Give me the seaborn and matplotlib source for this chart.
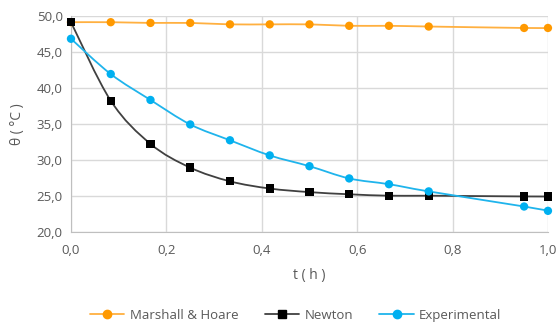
import numpy as np
import pandas as pd
import seaborn as sns
import matplotlib.pyplot as plt
from matplotlib.path import Path
from matplotlib.patches import PathPatch
from matplotlib.lines import Line2D
from matplotlib.ticker import FuncFormatter

# data
t = [0, 1/12, 2/12, 3/12, 4/12, 5/12, 6/12, 7/12, 8/12, 9/12, 0.95, 1.0]
marshall = [49.1, 49.1, 49.0, 49.0, 48.8, 48.8, 48.8, 48.6, 48.6, 48.5, 48.3, 48.3]
newton = [49.1, 38.2, 32.2, 28.9, 27.0, 26.0, 25.5, 25.2, 25.0, 25.0, 24.9, 24.9]
experimental = [46.8, 41.9, 38.3, 34.9, 32.7, 30.6, 29.1, 27.4, 26.6, 25.6, 23.5, 22.9]

series = ['Marshall & Hoare', 'Newton', 'Experimental']
line_colors = ['#FFB040', '#404040', '#1FB4EC']
marker_colors = ['#FF9900', '#000000', '#00B0F0']
markers = ['o', 's', 'o']

df = pd.DataFrame({'t': t * 3,
                   'theta': marshall + newton + experimental,
                   'serie': [s for s in series for _ in t]})

sns.set_style('white')
plt.rcParams['font.family'] = ['Open Sans', 'DejaVu Sans']
grey = '#595959'

fig = plt.figure(figsize=(5.58, 3.29), dpi=100)
ax = fig.add_axes([0.1272, 0.2957, 0.8548, 0.6565])


def smooth_path(x, y):
    # Excel-like smoothed line: cubic bezier segments through the points
    x = np.asarray(x, float)
    y = np.asarray(y, float)
    verts = [(x[0], y[0])]
    codes = [Path.MOVETO]
    n = len(x)
    for i in range(n - 1):
        p0 = (x[max(i - 1, 0)], y[max(i - 1, 0)])
        p1 = (x[i], y[i])
        p2 = (x[i + 1], y[i + 1])
        p3 = (x[min(i + 2, n - 1)], y[min(i + 2, n - 1)])
        c1 = (p1[0] + (p2[0] - p0[0]) / 6, p1[1] + (p2[1] - p0[1]) / 6)
        c2 = (p2[0] - (p3[0] - p1[0]) / 6, p2[1] - (p3[1] - p1[1]) / 6)
        verts += [c1, c2, p2]
        codes += [Path.CURVE4] * 3
    return Path(verts, codes)


for s, lc in zip(series, line_colors):
    d = df[df['serie'] == s]
    ax.add_patch(PathPatch(smooth_path(d['t'], d['theta']), facecolor='none',
                           edgecolor=lc, lw=1.3, zorder=2))

sns.scatterplot(data=df, x='t', y='theta', hue='serie', style='serie',
                palette=dict(zip(series, marker_colors)),
                markers=dict(zip(series, markers)), s=36, linewidth=0,
                legend=False, zorder=3, ax=ax)
for coll in ax.collections:
    coll.set_clip_on(False)

ax.set_xlim(0, 1.0)
ax.set_ylim(20, 50)
ax.set_xticks(np.arange(0, 1.01, 0.2))
ax.set_yticks(np.arange(20, 50.1, 5))
ax.xaxis.set_major_formatter(FuncFormatter(lambda v, p: f'{v:.1f}'.replace('.', ',')))
ax.yaxis.set_major_formatter(FuncFormatter(lambda v, p: f'{v:.1f}'.replace('.', ',')))
ax.grid(True, color='#D9D9D9', lw=1)
ax.set_axisbelow(True)
for sp in ['top', 'right']:
    ax.spines[sp].set_visible(False)
for sp in ['left', 'bottom']:
    ax.spines[sp].set_color('#BFBFBF')
ax.tick_params(axis='both', length=0, labelsize=9.5, labelcolor=grey)
ax.tick_params(axis='x', pad=9)
ax.tick_params(axis='y', pad=6)
ax.set_xlabel('t ( h )', fontsize=10, color=grey, labelpad=8)
ax.set_ylabel('θ ( °C )', fontsize=10, color=grey, labelpad=8)

handles = [Line2D([], [], color=lc, marker=m, markerfacecolor=mc, markeredgecolor=mc,
                  markersize=6, lw=1.3)
           for lc, mc, m in zip(line_colors, marker_colors, markers)]
leg = fig.legend(handles, series, loc='lower center', bbox_to_anchor=(0.53, -0.015),
                 ncol=3, frameon=False, fontsize=9.5, handlelength=2.6,
                 columnspacing=2.0, handletextpad=0.4)
for txt in leg.get_texts():
    txt.set_color(grey)

fig.savefig('out.png', dpi=100)
